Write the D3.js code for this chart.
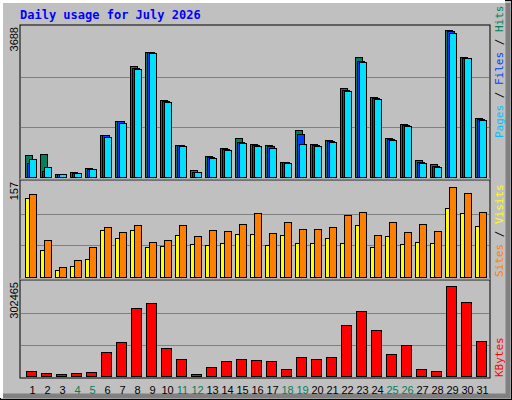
<!DOCTYPE html>
<html><head><meta charset="utf-8">
<script src="https://cdn.jsdelivr.net/npm/d3@7"></script>
<style>body{margin:0;background:#fff}</style>
</head><body>
<script>
const days = d3.range(1, 32);
const weekend = [4, 5, 11, 12, 18, 19, 25, 26];
const hits = [530,555,66,115,212,1043,1385,2728,3070,1898,799,164,505,725,970,823,791,376,1165,816,913,2183,2947,1970,970,1311,408,310,3606,2947,1458];
const files = [333,139,66,95,200,1030,1370,2690,3070,1880,775,130,480,700,870,790,750,360,1067,790,890,2150,2850,1940,940,1280,370,270,3580,2930,1430];
const pages = [432,237,66,90,188,994,1336,2655,3045,1849,750,115,457,676,848,765,725,352,816,765,864,2110,2818,1914,913,1255,352,254,3550,2915,1400];
const sites = [129,44,12,18.5,29.6,77,64.6,77,48.6,50,69,53.4,51.8,55,70.9,70.9,51.8,69,55,55,64.6,55,85,48.6,67.7,53.4,58,55,113.7,104,83.6];
const visits = [135.6,59.8,17,28,48.6,82,74,85,56.6,59.8,85,67.7,77,75.6,86.7,104,72.5,90,78.8,78.8,82,101,107,69,90,74,86.7,75.6,147,137.5,105.8];
const kbytes = [15000,8700,5400,8700,12000,79500,111000,224000,240000,92000,57000,5000,31000,50000,57000,54000,50000,21500,63000,57000,63000,166000,214600,150000,73000,102000,21500,18000,295000,243600,115000];
const maxHits = 3688, maxVisits = 157, maxKB = 302465;

const W = 512, H = 400;
const svg = d3.select("body").append("svg").attr("width", W).attr("height", H);
svg.append("rect").attr("width", W).attr("height", H).attr("fill", "#c0c0c0");
// bevel
svg.append("rect").attr("x", 0.5).attr("y", 0.5).attr("width", W - 1).attr("height", H - 1).attr("fill", "none").attr("stroke", "#000");
svg.append("path").attr("d", "M1.5,398V1.5H505").attr("fill", "none").attr("stroke", "#fff").attr("stroke-width", 3);
svg.append("path").attr("d", "M508,3V396H3").attr("fill", "none").attr("stroke", "#808080").attr("stroke-width", 5);

svg.append("text").attr("x", 20).attr("y", 19).text("Daily usage for July 2026")
  .attr("font-family", "DejaVu Sans Mono").attr("font-weight", "bold").attr("font-size", 12).attr("fill", "#0000ff");

const x = d3.scaleBand().domain(days).range([20, 485]).paddingInner(0);
const left = 20, right = 490;

function panel(top, bottom, max, label) {
  const y = d3.scaleLinear().domain([0, max]).range([bottom, top + 2]);
  svg.append("rect").attr("x", left).attr("y", top).attr("width", right - left).attr("height", bottom - top + 2)
    .attr("fill", "none").attr("stroke", "#000");
  [1 / 3, 2 / 3].forEach(f => svg.append("line").attr("x1", left + 1).attr("x2", right - 1)
    .attr("y1", Math.round(y(max * f)) + 0.5).attr("y2", Math.round(y(max * f)) + 0.5).attr("stroke", "#808080"));
  svg.append("text").attr("transform", `translate(18,${top + 2}) rotate(-90)`).attr("text-anchor", "end")
    .attr("font-family", "Liberation Sans").attr("font-size", 11).text(label);
  return y;
}
function bars(y, data, off, w, color) {
  svg.append("g").selectAll("rect").data(data).join("rect")
    .attr("x", (d, i) => x(days[i]) + off + 0.5).attr("width", w)
    .attr("y", d => Math.round(y(d)) + 0.5).attr("height", d => Math.max(0, y(0) - Math.round(y(d))))
    .attr("fill", color).attr("stroke", "#000");
}

const y1 = panel(25, 177, maxHits * 1.0, "3688");
bars(y1, hits, 5, 7, "#00805c");
bars(y1, files, 7, 7, "#0040ff");
bars(y1, pages, 9, 7, "#00e0ff");
svg.append("line").attr("x1", left).attr("x2", right).attr("y1", 179.5).attr("y2", 179.5).attr("stroke", "#fff").attr("stroke-width", 2);

const y2 = panel(180, 277, maxVisits * 0.99, "157");
bars(y2, sites, 5, 8, "#ffff00");
bars(y2, visits, 9, 7, "#ff8000");
svg.append("line").attr("x1", left).attr("x2", right).attr("y1", 279.5).attr("y2", 279.5).attr("stroke", "#fff").attr("stroke-width", 2);

const y3 = panel(280, 376, maxKB * 1.02, "302465");
bars(y3, kbytes, 6, 10, "#ff0000");

svg.append("g").selectAll("text").data(days).join("text")
  .attr("x", d => x(d) + 12.5).attr("y", 394).attr("text-anchor", "middle")
  .attr("font-family", "Liberation Sans").attr("font-size", 11)
  .attr("fill", d => weekend.includes(d) ? "#00805c" : "#000").text(d => d);

function sideLabel(yBottom, parts) {
  const t = svg.append("text").attr("transform", `translate(503,${yBottom}) rotate(-90)`)
    .attr("font-family", "DejaVu Sans Mono").attr("font-size", 11);
  parts.forEach(p => t.append("tspan").attr("fill", p[1]).text(p[0]));
}
sideLabel(138, [["Pages", "#00c0ff"], [" / ", "#000"], ["Files", "#0040ff"], [" / ", "#000"], ["Hits", "#00805c"]]);
sideLabel(277, [["Sites", "#ff8000"], [" / ", "#000"], ["Visits", "#ffff00"]]);
sideLabel(377, [["KBytes", "#ff0000"]]);
</script>
</body></html>
